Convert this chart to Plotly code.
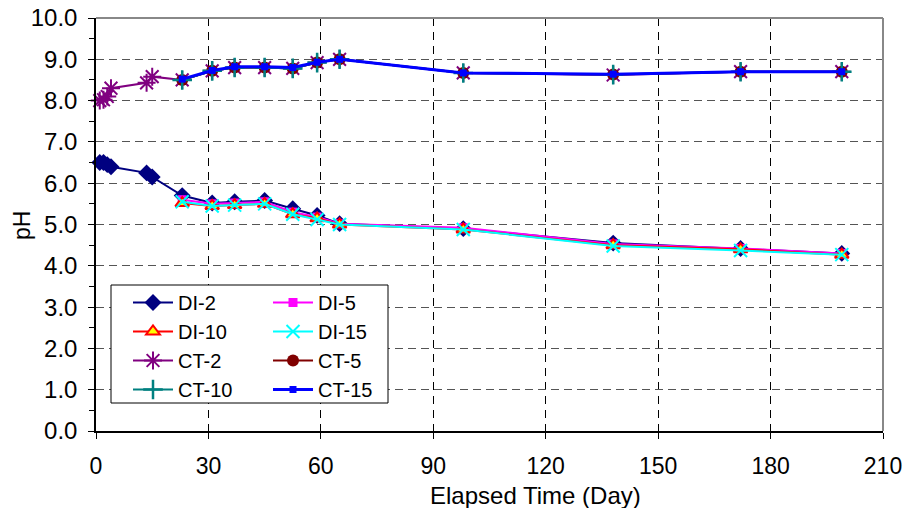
import plotly.graph_objects as go

# ---- data ----
days_early = [1, 2, 3, 4, 13.5, 15]
days_late = [23, 31, 37, 45, 52.5, 59, 65, 98, 138, 172, 199]

di2_early = [6.5, 6.5, 6.45, 6.4, 6.25, 6.15]
di2_late = [5.7, 5.52, 5.55, 5.58, 5.38, 5.22, 5.02, 4.9, 4.55, 4.42, 4.3]
di5 = [5.6, 5.5, 5.52, 5.55, 5.3, 5.18, 5.02, 4.92, 4.53, 4.42, 4.3]
di10 = [5.52, 5.45, 5.47, 5.5, 5.25, 5.15, 5.0, 4.88, 4.5, 4.4, 4.27]
di15 = [5.55, 5.45, 5.47, 5.5, 5.25, 5.12, 5.0, 4.88, 4.48, 4.37, 4.27]

ct2_early = [8.0, 8.02, 8.1, 8.3, 8.43, 8.58]
ct2_late = [8.5, 8.72, 8.8, 8.8, 8.78, 8.92, 9.0, 8.67, 8.62, 8.7, 8.7]
ct5 = [8.5, 8.72, 8.8, 8.8, 8.78, 8.92, 9.0, 8.67, 8.63, 8.7, 8.7]
ct10 = [8.5, 8.72, 8.8, 8.8, 8.78, 8.92, 9.0, 8.67, 8.63, 8.7, 8.7]
ct15 = [8.52, 8.73, 8.82, 8.82, 8.8, 8.93, 9.0, 8.67, 8.64, 8.7, 8.7]

x_ticks = [0, 30, 60, 90, 120, 150, 180, 210]
y_ticks = [0, 1, 2, 3, 4, 5, 6, 7, 8, 9, 10]

FONT = "Arial, Liberation Sans, sans-serif"

series = [
    # name, x, y, line color, line width, marker dict, legend
    ("DI-2", days_early + days_late, di2_early + di2_late, "#000080", 2,
     dict(symbol="diamond", size=13, color="#000080"), "legend"),
    ("DI-5", days_late, di5, "#FF00FF", 2,
     dict(symbol="square", size=9, color="#FF00FF"), "legend2"),
    ("DI-10", days_late, di10, "#FF0000", 2,
     dict(symbol="triangle-up", size=12, color="#FFFF00",
          line=dict(color="#FF0000", width=2)), "legend"),
    ("DI-15", days_late, di15, "#00FFFF", 2,
     dict(symbol="x-thin", size=13, color="#00FFFF",
          line=dict(color="#00FFFF", width=2)), "legend2"),
    ("CT-2", days_early + days_late, ct2_early + ct2_late, "#800080", 2,
     dict(symbol="asterisk", size=15, color="#800080",
          line=dict(color="#800080", width=2)), "legend"),
    ("CT-5", days_late, ct5, "#800000", 2,
     dict(symbol="circle", size=12, color="#800000"), "legend2"),
    ("CT-10", days_late, ct10, "#008080", 2,
     dict(symbol="cross-thin", size=14, color="#008080",
          line=dict(color="#008080", width=2.5)), "legend"),
    ("CT-15", days_late, ct15, "#0000FF", 3,
     dict(symbol="square", size=7, color="#0000FF"), "legend2"),
]

fig = go.Figure()
for name, xs, ys, lc, lw, mk, lg in series:
    fig.add_trace(go.Scatter(
        x=xs, y=ys, name=name, mode="lines+markers",
        line=dict(color=lc, width=lw), marker=mk, legend=lg,
        cliponaxis=False,
    ))

L, R, T, B = 96, 25, 18, 77
W, H = 908, 508
pw, ph = W - L - R, H - T - B


def px_x(p):
    return (p - L) / pw


def px_y(p):
    return (H - B - p) / ph


legend_common = dict(
    font=dict(family=FONT, size=20, color="black"),
    bgcolor="rgba(0,0,0,0)", borderwidth=0,
    xanchor="left", yanchor="top", orientation="v",
    itemwidth=40, tracegroupgap=0,
)

fig.update_layout(
    width=W, height=H,
    margin=dict(l=L, r=R, t=T, b=B, autoexpand=False),
    paper_bgcolor="white", plot_bgcolor="white",
    font=dict(family=FONT, size=20, color="black"),
    showlegend=True,
    legend=dict(x=px_x(128), y=px_y(283), **legend_common),
    legend2=dict(x=px_x(268), y=px_y(283), **legend_common),
    xaxis=dict(
        range=[0, 210], tickvals=x_ticks, ticktext=[str(v) for v in x_ticks],
        showline=True, linecolor="black", linewidth=1.5, automargin=False,
        ticks="outside", ticklen=6, tickcolor="black",
        showgrid=True, gridcolor="black", griddash="8px,6px", gridwidth=1,
        zeroline=False, ticklabelstandoff=8,
        tickfont=dict(family=FONT, size=23),
    ),
    yaxis=dict(
        range=[0, 10], tickvals=y_ticks, ticktext=[f"{v:.1f}" for v in y_ticks],
        showline=True, linecolor="black", linewidth=1.5, automargin=False,
        ticks="outside", ticklen=6, tickcolor="black",
        showgrid=True, gridcolor="#555555", griddash="8px,5px", gridwidth=1,
        zeroline=False, ticklabelstandoff=6,
        minor=dict(dtick=0.5, ticks="outside", ticklen=5, tickcolor="black", showgrid=False),
        tickfont=dict(family=FONT, size=24),
    ),
    shapes=[
        # legend box
        dict(type="rect", xref="paper", yref="paper",
             x0=px_x(111), x1=px_x(388), y0=px_y(403), y1=px_y(285),
             line=dict(color="black", width=1), fillcolor="white", layer="above"),
        # top and right frame in gray
        dict(type="line", xref="paper", yref="paper", x0=0, x1=1, y0=1, y1=1,
             line=dict(color="#888888", width=2)),
        dict(type="line", xref="paper", yref="paper", x0=1, x1=1, y0=0, y1=1,
             line=dict(color="#888888", width=2)),
    ],
    annotations=[
        dict(text="Elapsed Time (Day)", xref="paper", yref="paper",
             x=px_x(535), y=px_y(495), xanchor="center", yanchor="middle",
             showarrow=False, font=dict(family=FONT, size=24)),
        dict(text="pH", xref="paper", yref="paper",
             x=px_x(22), y=px_y(226), xanchor="center", yanchor="middle",
             textangle=-90, showarrow=False, font=dict(family=FONT, size=23)),
    ],
)

fig.write_html("out.html")
